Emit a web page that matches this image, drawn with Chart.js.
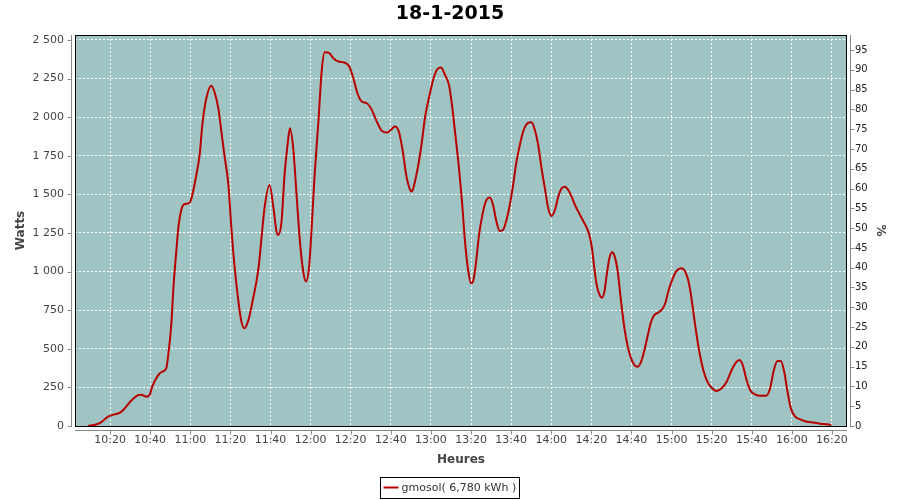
<!DOCTYPE html>
<html>
<head>
<meta charset="utf-8">
<title>18-1-2015</title>
<script src="https://cdn.jsdelivr.net/npm/chart.js@4/dist/chart.umd.min.js"></script>
<style>
    html, body { margin: 0; padding: 0; background: #ffffff; }
    #wrap { width: 900px; height: 500px; }
</style>
</head>
<body>
<div id="wrap"><canvas id="prodChart" width="900" height="500"></canvas></div>
<script>
const titre = "18-1-2015";
const serieNom = "gmosol( 6,780 kWh )";

// heure de la mesure (hh:mm ou hh:mm:ss)
const heures = [
    "10:09", "10:13", "10:15:30", "10:19", "10:22", "10:25", "10:27", "10:30:30", "10:34", "10:35:30",
    "10:38", "10:39:40", "10:41", "10:44", "10:46", "10:48", "10:49", "10:50:30", "10:51:40", "10:53",
    "10:54", "10:55:30", "10:57", "10:59:40", "11:01", "11:03", "11:04:40", "11:06", "11:08", "11:10:30",
    "11:12", "11:14", "11:15:30", "11:17", "11:19", "11:20:30", "11:22", "11:24", "11:25:30", "11:27",
    "11:29", "11:31", "11:34", "11:35:30", "11:37", "11:39:30", "11:41:30", "11:43", "11:43:50", "11:45:30",
    "11:47", "11:48:30", "11:49:40", "11:51:20", "11:53", "11:54:40", "11:56:20", "11:57:40", "11:59:20", "12:00:30",
    "12:02", "12:04", "12:05:30", "12:07", "12:09:20", "12:11:20", "12:13:50", "12:17", "12:19:20", "12:21:20",
    "12:23:20", "12:25:30", "12:28", "12:30:30", "12:33", "12:35:30", "12:38", "12:40", "12:42", "12:44",
    "12:46", "12:47:40", "12:49:20", "12:50:30", "12:52", "12:54", "12:55:30", "12:57", "12:59:20", "13:01:20",
    "13:03:20", "13:05", "13:07", "13:09", "13:10:30", "13:12", "13:14", "13:15:30", "13:17", "13:18:40",
    "13:20", "13:21", "13:22:20", "13:24", "13:25:40", "13:27:20", "13:29:20", "13:31", "13:32:40", "13:34:20",
    "13:36", "13:37:40", "13:39:20", "13:41", "13:42:40", "13:44:20", "13:46", "13:48:10", "13:50:10", "13:51:50",
    "13:53:30", "13:55:10", "13:56:50", "13:58:30", "14:00:10", "14:01:50", "14:03:30", "14:05:10", "14:06:50", "14:08:30",
    "14:10:10", "14:11:50", "14:13:30", "14:15:40", "14:17:40", "14:19", "14:20:20", "14:21:30", "14:22:40", "14:24",
    "14:25:20", "14:26:30", "14:27:40", "14:29", "14:30:20", "14:31:40", "14:33:10", "14:34:50", "14:36:30", "14:38:10",
    "14:39:50", "14:41:30", "14:43:10", "14:44:50", "14:46:30", "14:48:10", "14:49:50", "14:51:30", "14:53:40", "14:55:40",
    "14:57:00", "14:58:20", "15:00", "15:02:30", "15:05", "15:07:30", "15:09:10", "15:10:50", "15:12:30", "15:14:10",
    "15:15:50", "15:17:50", "15:20", "15:22:30", "15:25", "15:27:30", "15:30", "15:32:10", "15:33:50", "15:35:30",
    "15:37:10", "15:39:10", "15:41:40", "15:44:10", "15:47:10", "15:49:10", "15:50:50", "15:52:50", "15:54:30", "15:56:10",
    "15:57:50", "15:59:30", "16:01:40", "16:04:10", "16:07:30", "16:10:50", "16:14:10", "16:17:30", "16:19:40"
];

// puissance en watts
const watts = [
    0, 10, 24, 60, 75, 86, 110, 164, 200, 203,
    190, 200, 255, 330, 352, 373, 460, 654, 913, 1129,
    1280, 1399, 1436, 1446, 1496, 1626, 1755, 1950, 2122, 2204,
    2165, 2057, 1906, 1755, 1561, 1280, 1043, 805, 676, 633,
    687, 805, 1021, 1216, 1410, 1560, 1410, 1259, 1237, 1324,
    1626, 1820, 1928, 1798, 1496, 1194, 1000, 935, 1043, 1280,
    1626, 1993, 2295, 2420, 2414, 2381, 2360, 2353, 2327, 2252,
    2155, 2101, 2090, 2047, 1971, 1911, 1900, 1917, 1939, 1906,
    1777, 1626, 1539, 1518, 1582, 1712, 1841, 1993, 2144, 2252,
    2312, 2321, 2273, 2209, 2079, 1906, 1669, 1453, 1194, 1000,
    924, 935, 1043, 1237, 1367, 1453, 1479, 1431, 1324, 1263,
    1270, 1334, 1431, 1561, 1712, 1820, 1906, 1960, 1967, 1917,
    1820, 1669, 1539, 1410, 1360, 1399, 1485, 1539, 1550, 1528,
    1485, 1431, 1388, 1334, 1285, 1237, 1151, 1021, 913, 853,
    831, 870, 978, 1086, 1125, 1097, 1000, 805, 633, 514,
    438, 395, 384, 417, 492, 589, 676, 719, 736, 762,
    800, 870, 935, 1004, 1021, 978, 891, 741, 589, 460,
    363, 287, 248, 227, 244, 287, 363, 412, 428, 395,
    309, 233, 205, 196, 196, 244, 352, 421, 421, 352,
    222, 114, 60, 43, 28, 22, 15, 11, 6
];

// bornes des axes
const heureDebut = "10:02:30";
const heureFin = "16:27:30";
const pasHeures = 20;      // minutes
const wattsMax = 2532;
const wattsGraduations = [0, 250, 500, 750, 1000, 1250, 1500, 1750, 2000, 2250, 2500];
const pourcentMax = 98.8;
const pasPourcent = 5;

const police = "'DejaVu Sans', 'Liberation Sans', sans-serif";
const fondTrace = "#9fc4c3";
const couleurSerie = "#b80000";
const grisAxe = "#8a8a8a";

function versMinutes(h) {
    const p = h.split(":").map(Number);
    return p[0] * 60 + p[1] + (p[2] || 0) / 60;
}

function formatHeure(m) {
    const hh = Math.floor(m / 60);
    const mm = Math.round(m % 60);
    return hh + ":" + String(mm).padStart(2, "0");
}

function formatMilliers(v) {
    return String(v).replace(/\B(?=(\d{3})+(?!\d))/g, " ");
}

const points = heures.map((h, i) => ({ x: versMinutes(h), y: watts[i] }));

// fond du graphe, cadre, axes décalés et légende encadrée
const decorPlugin = {
    id: "decor",
    beforeDraw(chart) {
        const { ctx, chartArea: a } = chart;
        ctx.save();
        ctx.fillStyle = fondTrace;
        ctx.fillRect(a.left, a.top, a.right - a.left, a.bottom - a.top);
        ctx.restore();
    },
    afterDraw(chart) {
        const { ctx, chartArea: a, scales } = chart;
        const L = Math.round(a.left), R = Math.round(a.right);
        const T = Math.round(a.top), B = Math.round(a.bottom);
        ctx.save();

        ctx.strokeStyle = "#000";
        ctx.lineWidth = 1;
        ctx.strokeRect(L + 0.5, T + 0.5, R - L - 1, B - T);

        ctx.strokeStyle = grisAxe;
        ctx.beginPath();
        // axe gauche
        ctx.moveTo(L - 3.5, T);
        ctx.lineTo(L - 3.5, B + 1);
        scales.y.ticks.forEach(t => {
            const py = Math.round(scales.y.getPixelForValue(t.value)) + 0.5;
            ctx.moveTo(L - 3.5, py);
            ctx.lineTo(L - 7.5, py);
        });
        // axe droit
        ctx.moveTo(R + 3.5, T);
        ctx.lineTo(R + 3.5, B + 1);
        scales.pct.ticks.forEach(t => {
            const py = Math.round(scales.pct.getPixelForValue(t.value)) + 0.5;
            ctx.moveTo(R + 3.5, py);
            ctx.lineTo(R + 7.5, py);
        });
        // axe du bas
        ctx.moveTo(L, B + 4.5);
        ctx.lineTo(R, B + 4.5);
        scales.x.ticks.forEach(t => {
            const px = Math.round(scales.x.getPixelForValue(t.value)) + 0.5;
            ctx.moveTo(px, B + 4.5);
            ctx.lineTo(px, B + 8.5);
        });
        ctx.stroke();

        // légende
        const label = chart.data.datasets[0].label;
        ctx.font = "11px " + police;
        const tw = ctx.measureText(label).width;
        const bw = Math.round(tw + 24);
        const bx = Math.round(449 - bw / 2) + 0.5;
        const by = 477.5;
        ctx.strokeStyle = "#000";
        ctx.strokeRect(bx, by, bw, 21);
        ctx.strokeStyle = couleurSerie;
        ctx.lineWidth = 2;
        ctx.beginPath();
        ctx.moveTo(bx + 3, by + 10);
        ctx.lineTo(bx + 18, by + 10);
        ctx.stroke();
        ctx.fillStyle = "#333";
        ctx.textBaseline = "middle";
        ctx.fillText(label, bx + 21, by + 11);
        ctx.restore();
    }
};

new Chart(document.getElementById("prodChart"), {
    type: "line",
    data: {
        datasets: [{
            label: serieNom,
            data: points,
            borderColor: couleurSerie,
            borderWidth: 2,
            pointRadius: 0,
            fill: false,
            cubicInterpolationMode: "monotone"
        }]
    },
    options: {
        responsive: false,
        animation: false,
        layout: { padding: { top: 0, left: 0, right: 0, bottom: 30 } },
        plugins: {
            legend: { display: false },
            tooltip: { enabled: false },
            title: {
                display: true,
                text: titre,
                color: "#000",
                font: { family: police, size: 19, weight: "bold" },
                padding: { top: 2.5, bottom: 9.7 }
            }
        },
        scales: {
            x: {
                type: "linear",
                min: versMinutes(heureDebut),
                max: versMinutes(heureFin),
                afterFit(scale) { scale.height = 44; },
                border: { display: false, dash: [2, 2] },
                grid: { color: "#ffffff", lineWidth: 1, drawTicks: false },
                ticks: {
                    stepSize: pasHeures,
                    includeBounds: false,
                    maxRotation: 0,
                    autoSkip: false,
                    padding: 8,
                    color: "#444",
                    font: { family: police, size: 11 },
                    callback: v => formatHeure(v)
                },
                title: {
                    display: true,
                    text: "Heures",
                    color: "#444",
                    font: { family: police, size: 12, weight: "bold" },
                    padding: { top: 0, bottom: 2.8 }
                }
            },
            y: {
                position: "left",
                min: 0,
                max: wattsMax,
                afterFit(scale) { scale.width = 75; },
                afterBuildTicks(scale) {
                    scale.ticks = wattsGraduations.map(v => ({ value: v }));
                },
                border: { display: false, dash: [2, 2] },
                grid: { color: "#ffffff", lineWidth: 1, drawTicks: false },
                ticks: {
                    padding: 11,
                    color: "#444",
                    font: { family: police, size: 11 },
                    callback: v => formatMilliers(v)
                },
                title: {
                    display: true,
                    text: "Watts",
                    color: "#444",
                    font: { family: police, size: 12, weight: "bold" },
                    padding: { top: 13.8, bottom: 0 }
                }
            },
            pct: {
                position: "right",
                min: 0,
                max: pourcentMax,
                afterFit(scale) { scale.width = 53; },
                border: { display: false },
                grid: { display: false, drawTicks: false },
                ticks: {
                    stepSize: pasPourcent,
                    includeBounds: false,
                    padding: 8,
                    color: "#222",
                    font: { family: police, size: 10 }
                },
                title: {
                    display: true,
                    text: "%",
                    color: "#444",
                    font: { family: police, size: 12, weight: "bold" },
                    padding: { top: 12.8, bottom: 0 }
                }
            }
        }
    },
    plugins: [decorPlugin]
});
</script>
</body>
</html>
